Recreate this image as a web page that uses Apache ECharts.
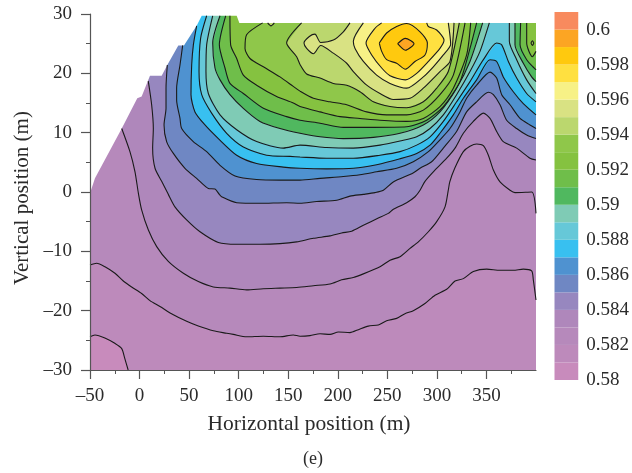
<!DOCTYPE html>
<html><head><meta charset="utf-8">
<style>html,body{margin:0;padding:0;background:#fff}#c{width:632px;height:473px}</style>
<script src="https://cdn.jsdelivr.net/npm/echarts@6/dist/echarts.min.js"></script>
</head><body><div id="c"></div>
<script>
const bandValues=[0.58,0.581,0.582,0.583,0.584,0.585,0.586,0.587,0.588,0.589,0.59,0.591,0.592,0.593,0.594,0.595,0.596,0.597,0.598,0.599,0.6];
const bandColors=['#C88BBC','#BD8ABB','#B689BB','#AF87BB','#9787BF','#6F87C3','#4F92D0','#38C0F0','#66C8D8','#7FCBB5','#50B85F','#6FBE4A','#85C240','#8FC74A','#BBD76E','#D9E283','#F7F186','#FFE040','#FFC90E','#FCA523','#F88A5E'];
const xTicks=[-50,0,50,100,150,200,250,300,350];
const fullFrame=[[-50,-30],[400,-30],[400,31],[-50,31]];
const noData=[[-50,-0.2],[-45,2.3],[-18,10.7],[-2.3,15.8],[2.1,16.1],[10.5,19.6],[22.3,19.6],[28,21.4],[39.1,24.7],[44.8,24.7],[57.6,28],[62.7,29.7],[98,29.7],[100.7,28.5],[400,28.5],[400,31],[-50,31]];
const c581=[[-50,-24.4],[-45,-24.1],[-35,-24.6],[-25,-25.5],[-18,-26.4],[-15,-28],[-11.5,-30]];
const c582=[[-50,-12.3],[-43.3,-12],[-34.9,-12.6],[-24.8,-13.7],[-16.4,-15],[-8,-16],[2.1,-17.1],[10.5,-18.3],[20.6,-19.3],[34.1,-20.7],[47.5,-21.8],[59.3,-22.6],[74.4,-23.4],[87.9,-23.8],[94.6,-24],[108,-24.4],[124.9,-24.3],[141.7,-24.4],[155.1,-24.1],[161.9,-24.3],[172,-24.2],[182.1,-23.9],[192.2,-24],[200.6,-23.6],[212.3,-23.7],[220.8,-23.2],[230.8,-22.6],[240.9,-22.4],[249.3,-21.7],[259.4,-21.3],[267.8,-20.5],[276.2,-20],[288,-18.8],[298.1,-17.4],[309.9,-16.4],[318.3,-15],[326.7,-14.6],[336.8,-13.4],[350.2,-13],[363.7,-13.2],[377.1,-13.2],[387.2,-13],[395.6,-13.3],[397.3,-14.8],[400,-18.2]];
const c583=[[-18,10.7],[-9.7,6.8],[-4.6,3.4],[-1.2,-0.2],[2.1,-3],[8.9,-6.4],[17.3,-9.2],[29,-11.7],[44.2,-13.7],[59.3,-15.1],[74.4,-16],[91.2,-16.2],[108,-16.5],[124.9,-16.3],[141.7,-16.2],[158.5,-16.1],[175.4,-15.8],[192.2,-15.5],[203.9,-14.8],[215.7,-14.4],[225.8,-13.8],[242.6,-12.6],[252.7,-11.5],[262.8,-10.9],[272.9,-9.5],[281.3,-8.4],[291.4,-6.7],[299.8,-5],[308.2,-2.5],[311.5,0.3],[313,1.7],[318,4],[326.7,6.8],[333.4,7.7],[340.1,8.1],[346.9,7.8],[351.9,6.2],[357,3.7],[363.7,1.7],[373.8,0.3],[378.8,-0.1],[395.6,0],[400,-3.6]];
const c584=[[8.8,18.7],[12.2,14.7],[13.9,10.7],[13.2,7.4],[15.6,4],[22.3,1.8],[29,-0.4],[35.7,-2.5],[47.5,-4.7],[61,-6.7],[79.5,-8.5],[98,-8.8],[121.5,-8.8],[141.7,-8.7],[158.5,-8.4],[175.4,-7.8],[192.2,-7.4],[203.9,-6.9],[214,-6.6],[225.8,-5.6],[240.9,-4.4],[251,-3.6],[256.1,-2.9],[269.5,-1.8],[277.9,-0.8],[283,0.3],[288,1.8],[296.4,3.4],[309.9,5.7],[318.3,7.4],[326.7,9.9],[336.8,11.9],[346.9,13.3],[353.6,12.4],[360.3,10.2],[367,8.5],[380.5,7.4],[393.9,5.7],[400,5.4]];
const c585=[[28,21.4],[26.7,17.5],[26.7,14.1],[24.7,11.3],[27.3,8.5],[34.1,6.5],[45.8,4],[57.6,2.3],[69.4,0.6],[76.1,0.5],[80.5,-0.4],[82.8,-0.8],[98,-1.8],[121.5,-1.9],[148.4,-1.8],[161.9,-1.9],[178.7,-1.6],[198.9,-1.4],[212.3,-0.7],[225.8,-0.4],[237.6,-0.1],[246,0.3],[256,1.7],[276,3.2],[283,4],[294.7,5.1],[306.5,7.4],[319.9,10.2],[330,13.5],[340.1,15.2],[351.9,16.8],[357,16.4],[363.7,14.7],[370.4,12.1],[380.5,10.7],[390.6,9.6],[400,9]];
const c586=[[43.5,24.7],[40.8,21.4],[37.4,17.5],[37.4,15.5],[40.8,12.4],[42.5,10.7],[54.2,8.5],[67.7,6.8],[81.2,4.5],[96.3,2.7],[118.1,2.1],[141.7,2],[161.9,2],[182.1,2.3],[205.6,2.6],[222.4,2.9],[239.2,3.4],[259.4,4],[276.2,5.1],[291.4,6.8],[303.1,8.8],[313.2,10.7],[323.3,13.5],[330,15.8],[340.1,18],[353.6,20.2],[360.3,19.2],[365.4,16.4],[373.8,14.7],[383.9,12.4],[393.9,11.3],[400,10.7]];
const c587=[[57.6,28],[54.3,24.8],[52.6,21.4],[51.9,16.4],[55.9,13.5],[66,11.3],[79.5,9],[98,6.2],[118.1,4.8],[145,4.2],[161.9,4],[188.8,3.9],[215.7,4],[239.2,4.6],[262.8,5.6],[279.6,6.5],[293.1,7.9],[303.1,9.9],[316.6,13],[326.7,15.8],[340.1,18.9],[353.6,22.3],[360.3,22],[367,19.4],[377.1,16.9],[387.2,14.9],[400,13]];
const c588=[[67.7,29.7],[61.6,25.9],[60,20.3],[62.7,16.4],[72.7,13.3],[87.9,9.9],[104.7,7.6],[128.2,6.2],[151.8,6],[161.9,5.9],[188.8,5.7],[215.7,5.7],[242.6,6.2],[262.8,6.8],[279.6,7.9],[293.1,9.3],[306.5,11.9],[319.9,15.2],[333.4,18.6],[346.9,22.3],[360.3,25.1],[365.4,24.8],[372.1,22],[380.5,19.2],[390.6,16.6],[400,15.2]];
const c589=[[73.8,29.7],[67.7,24.8],[67,20.3],[69.4,16.6],[81.2,13],[98,10.5],[118.1,8.5],[145,7.4],[161.9,7.9],[188.8,7.5],[215.7,7.4],[242.6,7.9],[262.8,8.6],[279.6,9.3],[293.1,10.7],[306.5,13],[319.9,16.4],[333.4,20.3],[343.5,23.7],[352.9,28.5]];
const c589r=[[373.1,28.5],[373.1,25.4],[380.5,22.3],[390.6,18.9],[400,16.6]];
const c590=[[81.2,29.7],[73.8,25.1],[76.1,20.9],[81.2,18.9],[91.2,16.4],[104.7,14.1],[121.5,11.9],[141.7,10.7],[161.9,9.9],[182.1,9.3],[205.6,9],[235.9,9.2],[262.8,9.9],[286.3,11.3],[303.1,13.5],[319.9,17.5],[333.4,22],[346.2,28.5]];
const c590r=[[378.8,28.5],[378.8,24.8],[387.2,21.7],[395.6,19.4],[400,18.6]];
const c591=[[86.9,29.7],[80.5,24.8],[86.2,20.9],[91.2,18.3],[104.7,16.6],[124.9,14.1],[148.4,12.7],[161.9,12.1],[182.1,11.6],[205.6,10.9],[235.9,10.9],[269.5,11],[289.7,12.1],[306.5,14.4],[323.3,18.6],[333.4,24.2],[340.1,28.5]];
const c591r=[[384.5,28.5],[383.9,24.8],[390.6,22.3],[400,20.6]];
const c592=[[91.2,29.7],[91.9,24.8],[98,22.5],[104.7,19.7],[118.1,18],[138.3,16.1],[155.1,15],[161.9,14.4],[182.1,13.5],[202.3,12.7],[222.4,12.4],[242.6,12.1],[269.5,11.9],[286.3,12.4],[303.1,14.4],[316.6,17.5],[330,23.1],[334.1,28.5]];
const c592r=[[390.6,28.5],[390.6,25.1],[396.3,22.8],[400,23.7]];
const c593=[[124.2,28.5],[108,26.5],[106.4,24.2],[111.4,22.5],[124.9,21.1],[141.7,19.4],[155.1,17.8],[161.9,17],[175.4,15.8],[192.2,15.2],[209,14.7],[229.2,13.5],[249.3,13],[269.5,13],[286.3,13.8],[303.1,16.4],[316.6,19.7],[328.4,28.5]];
const c593r=[[394.9,25.1],[396.3,25.5],[397.7,25.1],[396.3,24.7],[394.9,25.1]];
const c594=[[163.5,28.5],[148.4,25.1],[158.5,22.8],[161.9,21.5],[168.6,19.9],[182.1,19.2],[195.5,18.3],[209,18],[222.4,16.9],[235.9,15.2],[252.7,14.4],[269.5,14.2],[286.3,15.2],[299.8,17.5],[311.5,20.3],[322.6,28.5]];
const c594s=[[129.2,28.5],[132.6,28],[136,28.5]];
const c595=[[212.3,28.5],[205.6,27],[195.5,25.6],[182.7,25.2],[177,26.6],[171.3,26.2],[165.9,25.1],[168.6,24.2],[175.4,23.3],[182.7,24.7],[195.5,23.4],[209,21.7],[215.7,20.3],[229.2,18],[242.6,16.6],[256.1,15.6],[272.9,15.8],[286.3,17.5],[303.1,20.3],[313.2,22],[317.3,28.5]];
const c596=[[225.8,28.5],[215.7,25.4],[217.4,24.2],[225.8,22],[239.2,19.7],[252.7,18.3],[269.5,17.5],[286.3,19.4],[296.4,21.1],[306.5,23.1],[313.9,24.9],[311.5,28.5]];
const c597=[[244.3,28.5],[237.6,27.6],[228.5,25.1],[234.2,23.1],[244.3,20.9],[252.7,19.6],[268.2,18.9],[279.6,20],[291.4,22],[303.1,24.2],[307.2,25.6],[299.8,27.3],[291.4,27.9],[289.7,28.5]];
const c598=[[241.9,25.1],[249.3,26.8],[259.4,27.9],[269.5,28.4],[283,27],[290.4,25.1],[288,23.1],[277.9,22],[268.2,20.7],[259.4,21.7],[249.3,22.3],[244.3,23.7],[241.9,25.1]];
const c599=[[260.4,25],[268.2,25.9],[276.9,25],[268.2,23.9],[260.4,25]];

// [band colour index, contour, how the polygon closes]
const rings=[[1,c581,'corner'],[2,c582],[3,c583],[4,c584],[5,c585],[6,c586],[7,c587],[8,c588],[9,c589],[9,c589r],[10,c590],[10,c590r],[11,c591],[11,c591r],[12,c592],[12,c592r],[13,c593],[13,c593r,'closed'],[14,c594],[14,c594s],[15,c595],[16,c596],[17,c597],[18,c598,'closed'],[19,c599,'closed']];
function polygonOf(r){
  const c=r[1],first=c[0],last=c[c.length-1];
  if(r[2]==='closed')return c;
  if(r[2]==='corner')return c.concat([[400,-30],[400,31],[-50,31]]);
  return c.concat([[last[0],31],[first[0],31]]);
}
const polys=[{pts:fullFrame,color:bandColors[0]}].concat(rings.map(r=>({pts:polygonOf(r),color:bandColors[r[0]]})));
const FONT='"Liberation Serif",serif';
const TXT='#2b2b2b';
const AX='#555';
const dash=v=>String(v).replace('-','\u2013');
const chart=echarts.init(document.getElementById('c'),null,{renderer:'canvas'});
const polySeries=(list,z)=>({type:'custom',xAxisIndex:0,yAxisIndex:0,z,animation:false,silent:true,clip:true,
  data:list.map((_,i)=>[list[i].pts[0][0],list[i].pts[0][1],i]),encode:{x:0,y:1},
  renderItem(p,api){const o=list[api.value(2)];
    return {type:'polygon',shape:{points:o.pts.map(q=>api.coord(q))},style:{fill:o.color,stroke:null}};}});
chart.setOption({
  animation:false,
  grid:[{left:90,top:14,width:446,height:356},{left:554.5,top:12,width:24,height:368}],
  xAxis:[{gridIndex:0,type:'value',min:-50,max:400,interval:50,z:10,
      axisLine:{show:true,onZero:false,lineStyle:{color:AX,width:1.2}},
      axisTick:{show:true,length:9,lineStyle:{color:AX,width:1.2},customValues:xTicks},
      minorTick:{show:true,splitNumber:2,length:4,lineStyle:{color:AX,width:1}},
      splitLine:{show:false},
      axisLabel:{customValues:xTicks,formatter:dash,fontFamily:FONT,fontSize:19,color:TXT,margin:17},
      name:'Horizontal position (m)',nameLocation:'middle',nameGap:43,
      nameTextStyle:{fontFamily:FONT,fontSize:21.5,color:TXT,padding:[0,8,0,0]}},
    {gridIndex:1,type:'value',min:0,max:1,show:false}],
  yAxis:[{gridIndex:0,type:'value',min:-30,max:30,interval:10,z:10,
      axisLine:{show:true,onZero:false,lineStyle:{color:AX,width:1.2}},
      axisTick:{show:true,length:9,lineStyle:{color:AX,width:1.2}},
      minorTick:{show:true,splitNumber:2,length:4,lineStyle:{color:AX,width:1}},
      splitLine:{show:false},
      axisLabel:{formatter:dash,fontFamily:FONT,fontSize:19,color:TXT,margin:18},
      name:'Vertical position (m)',nameLocation:'middle',nameGap:57,
      nameTextStyle:{fontFamily:FONT,fontSize:21,color:TXT,padding:[0,12,0,0]}},
    {gridIndex:1,type:'value',position:'right',min:0.58,max:0.601,interval:0.002,
      axisLine:{show:false},axisTick:{show:false},splitLine:{show:false},
      axisLabel:{showMaxLabel:false,fontFamily:FONT,fontSize:19,color:TXT,margin:8}}],
  graphic:[{type:'text',left:303,top:450,style:{text:'(e)',font:'18px "Liberation Serif"',fill:TXT}}],
  series:[polySeries(polys,2),polySeries([{pts:noData,color:'#fff'}],3)]
    .concat(rings.map(r=>({type:'line',xAxisIndex:0,yAxisIndex:0,z:4,data:r[1],showSymbol:false,symbol:'none',silent:true,animation:false,clip:true,smooth:0.25,
      lineStyle:{color:'#1a1a1a',width:1.1}})))
    .concat([{type:'custom',xAxisIndex:1,yAxisIndex:1,z:2,silent:true,animation:false,
      data:bandValues.map((v,i)=>[0,v,i]),encode:{x:0,y:1},
      renderItem(p,api){const v=api.value(1),a=api.coord([0,v]),b=api.coord([1,v+0.001]);
        return {type:'rect',shape:{x:a[0],y:b[1],width:b[0]-a[0],height:a[1]-b[1]},style:{fill:bandColors[api.value(2)]}};}}])
});
</script></body></html>
